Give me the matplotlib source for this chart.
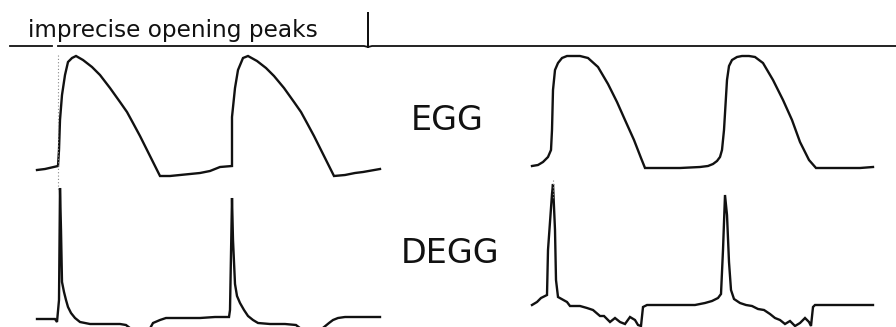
import numpy as np
import matplotlib
matplotlib.use("Agg")
import matplotlib.pyplot as plt

# header text and panel labels
header_text = "imprecise opening peaks"
egg_label = "EGG"
degg_label = "DEGG"

# header rule (time axis of the scan)
rule_x = [10, 52, 58, 364, 368, 368, 368, 372, 530, 896]
rule_y = [46, 46, 46, 46, 47, 13, 47, 46, 46, 46]

# EGG, left recording (time, level)
egg_l_t = [37, 45, 58, 59, 60, 62, 65, 68, 72, 76, 83, 92, 100, 110, 120, 127, 133,
           140, 147, 154, 160, 170, 180, 190, 200, 210, 220, 232, 232, 235, 238, 243,
           248, 257, 266, 274, 284, 294, 301, 307, 314, 321, 328, 334, 345, 355, 363, 380]
egg_l_v = [170, 169, 166, 150, 120, 95, 75, 62, 58, 56, 60, 67, 75, 88, 102, 112, 123,
           136, 150, 164, 176, 176, 175, 174, 173, 171, 167, 166, 117, 88, 70, 58,
           56, 61, 68, 76, 88, 102, 112, 123, 136, 150, 164, 176, 175, 173, 172, 169]

# EGG, right recording
egg_r_t = [532, 538, 543, 548, 551, 552, 553, 555, 558, 562, 567, 574, 580, 588, 598,
           608, 617, 625, 634, 641, 645, 660, 680, 700, 708, 713, 717, 720, 722, 724,
           727, 729, 732, 737, 742, 749, 755, 763, 773, 783, 792, 800, 809, 816, 820,
           840, 860, 873]
egg_r_v = [166, 165, 162, 157, 150, 130, 90, 70, 63, 58, 56, 56, 56, 58, 67,
           84, 102, 120, 140, 158, 168, 168, 168, 167, 166, 164, 161, 157, 150, 130,
           80, 66, 60, 57, 56, 56, 57, 63, 80, 100, 120, 142, 160, 168, 168,
           168, 168, 167]

# DEGG, left recording
degg_l_t = [37, 50, 55, 57, 59, 60, 61, 62, 64, 66, 68, 71, 75, 80, 90, 105, 120, 126,
            135, 148, 153, 160, 166, 180, 200, 215, 229, 230, 232, 233, 235, 237, 240,
            244, 248, 253, 258, 270, 285, 296, 305, 318, 329, 333, 338, 345, 360, 380]
degg_l_v = [319, 319, 319, 322, 300, 188, 230, 282, 292, 300, 307, 313, 318, 322, 324,
            324, 324, 325, 332, 332, 323, 320, 318, 318, 318, 317, 317, 310, 198, 240,
            284, 296, 303, 310, 316, 320, 323, 324, 324, 325, 332, 332, 323, 320, 318,
            317, 317, 317]

# DEGG, right recording
degg_r_t = [532, 537, 541, 545, 547, 548, 550, 552, 553, 555, 556, 558, 567, 570, 580,
            587, 593, 600, 604, 607, 610, 615, 620, 625, 630, 635, 638, 641, 643, 647,
            665, 680, 695, 705, 712, 718, 721, 723, 725, 727, 729, 731, 734, 740, 746,
            752, 758, 764, 770, 775, 780, 785, 790, 795, 800, 805, 809, 811, 813, 815,
            825, 845, 873]
degg_r_v = [305, 302, 298, 296, 295, 250, 222, 194, 184, 230, 280, 297, 302, 306, 306,
            308, 310, 316, 316, 319, 322, 318, 322, 324, 317, 320, 325, 326, 307, 305,
            305, 305, 305, 303, 301, 298, 294, 250, 195, 215, 262, 290, 299, 303, 305,
            306, 309, 310, 314, 318, 320, 324, 321, 326, 323, 318, 322, 326, 307, 305,
            305, 305, 305]

# faint dotted markers at the start of each glottal closure
marker_t = [58, 553]
marker_top = [55, 180]
marker_bottom = [190, 200]

W, H = 896, 327
fig = plt.figure(figsize=(W / 100, H / 100), dpi=100)
ax = fig.add_axes([0, 0, 1, 1])
ax.set_xlim(0, W)
ax.set_ylim(H, 0)
ax.axis("off")

ink = "#111111"
lw = 1.7

# header rule + label
ax.plot(rule_x[:2], rule_y[:2], color=ink, lw=1.3)
ax.plot(rule_x[2:], rule_y[2:], color=ink, lw=1.3)
ax.text(28, 37, header_text, fontsize=16.7, family="DejaVu Sans",
        color=ink, ha="left", va="baseline")

# the four traces
ax.plot(egg_l_t, egg_l_v, color=ink, lw=lw, solid_joinstyle="miter")
ax.plot(egg_r_t, egg_r_v, color=ink, lw=lw, solid_joinstyle="miter")
ax.plot(degg_l_t, degg_l_v, color=ink, lw=lw, solid_joinstyle="miter")
ax.plot(degg_r_t, degg_r_v, color=ink, lw=lw, solid_joinstyle="miter")

for t, a, b in zip(marker_t, marker_top, marker_bottom):
    ax.plot([t, t], [a, b], color="#888888", lw=0.8, ls=(0, (1, 2)))

ax.text(447, 130, egg_label, fontsize=24, family="DejaVu Sans",
        color=ink, ha="center", va="baseline")
ax.text(450, 263, degg_label, fontsize=24, family="DejaVu Sans",
        color=ink, ha="center", va="baseline")

fig.savefig("out.png", dpi=100)
